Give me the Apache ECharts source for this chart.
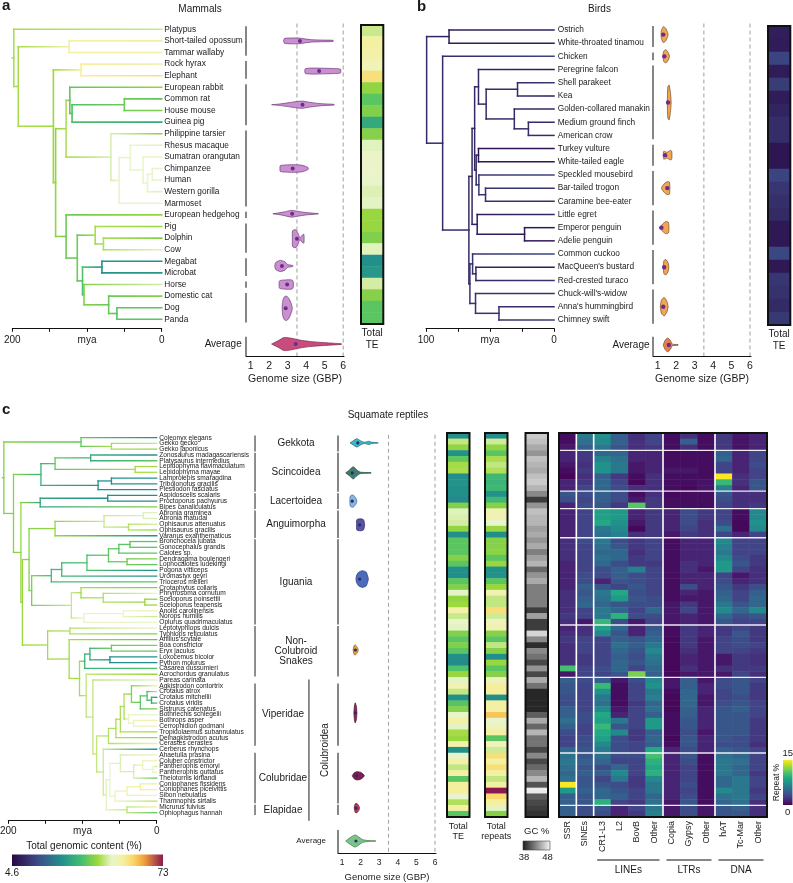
<!DOCTYPE html>
<html>
<head>
<meta charset="utf-8">
<script src="https://cdn.jsdelivr.net/npm/echarts@6.0.0/dist/echarts.min.js"></script>
<style>
html,body{margin:0;padding:0;background:#ffffff;}
#chart{width:793px;height:883px;}
</style>
</head>
<body>
<div id="chart"></div>
<script>
// ======================= DATA =======================
const genomeTicks = [1, 2, 3, 4, 5, 6];
const treeTickLabelsA = {200: '200', 100: 'mya', 0: '0'};
const treeTickLabelsB = {100: '100', 50: 'mya', 0: '0'};

// ---- Mammals ----
const mammalSpecies = ['Platypus','Short-tailed opossum','Tammar wallaby','Rock hyrax','Elephant','European rabbit','Common rat','House mouse','Guinea pig','Philippine tarsier','Rhesus macaque','Sumatran orangutan','Chimpanzee','Human','Western gorilla','Marmoset','European hedgehog','Pig','Dolphin','Cow','Megabat','Microbat','Horse','Domestic cat','Dog','Panda'];
const mammalTE = [47,54.5,54,52.5,58,42.5,38,41,32,41.5,49,50.5,50.5,50,48.7,49.5,43,43,41,49,27,28.5,48,41.5,38,38];
const mammalTree = [198,'Platypus',[192,[124,'Short-tailed opossum','Tammar wallaby'],[145,[108,'Rock hyrax','Elephant'],[142,[128,[123,'European rabbit',[120,[50,'Common rat','House mouse'],'Guinea pig']],[68,'Philippine tarsier',[57,[42,'Rhesus macaque',[25,'Sumatran orangutan',[19,[12.5,'Chimpanzee','Human'],'Western gorilla']]],'Marmoset']]],[128,'European hedgehog',[113,[89,'Pig',[78,'Dolphin','Cow']],[106,[80,'Megabat','Microbat'],[104,'Horse',[71,'Domestic cat',[60,'Dog','Panda']]]]]]]]]];
const mammalGroups = [[0,2],[3,4],[5,8],[9,15],[16,16],[17,19],[20,21],[22,22],[23,25]];
const mammalViolinRows = [1.0,3.6,6.5,12,15.9,18.05,20.4,22.0,24.05,27.13];
const mammalViolinMedians = [3.66,4.7,3.8,3.27,3.24,3.5,2.69,2.97,2.89,3.43];
const mammalViolinProfiles = [
  [[2.78,0],[2.82,0.2],[3.0,0.24],[3.6,0.25],[3.9,0.18],[4.3,0.1],[4.9,0.07],[5.45,0.05],[5.47,0]],
  [[3.92,0],[3.95,0.2],[4.3,0.26],[5.0,0.24],[5.6,0.21],[5.85,0.17],[5.87,0]],
  [[2.13,0],[2.5,0.05],[3.0,0.16],[3.5,0.28],[3.8,0.31],[4.2,0.2],[4.8,0.09],[5.5,0.03],[5.52,0]],
  [[2.58,0],[2.6,0.25],[2.9,0.31],[3.3,0.33],[3.7,0.3],[3.95,0.2],[4.1,0.08],[4.12,0]],
  [[2.2,0],[2.7,0.12],[3.2,0.29],[3.5,0.22],[4.0,0.1],[4.64,0.02],[4.66,0]],
  [[3.25,0],[3.27,0.7],[3.45,0.76],[3.56,0.45],[3.66,0.08],[3.78,0.3],[3.87,0.38],[3.89,0]],
  [[2.3,0],[2.35,0.3],[2.6,0.48],[2.85,0.36],[3.0,0.12],[3.27,0.05],[3.29,0]],
  [[2.53,0],[2.56,0.32],[2.9,0.4],[3.2,0.4],[3.29,0.3],[3.31,0]],
  [[2.7,0],[2.72,0.5],[2.8,0.95],[2.95,1.05],[3.1,0.75],[3.22,0.25],[3.25,0]],
  [[2.13,0],[2.5,0.3],[2.8,0.56],[3.2,0.5],[3.6,0.36],[4.2,0.22],[5.0,0.12],[5.9,0.03],[5.92,0]]
];

// ---- Birds ----
const birdSpecies = ['Ostrich','White-throated tinamou','Chicken','Peregrine falcon','Shell parakeet','Kea','Golden-collared manakin','Medium ground finch','American crow','Turkey vulture','White-tailed eagle','Speckled mousebird','Bar-tailed trogon','Caramine bee-eater','Little egret','Emperor penguin','Adelie penguin','Common cuckoo',"MacQueen's bustard",'Red-crested turaco',"Chuck-will's-widow","Anna's hummingbird",'Chimney swift'];
const birdTE = [8.5,8,15,8,13.5,8,9.5,11,11,7,7,15,12.5,11.5,10.5,7.5,7.5,15.5,7.5,12.5,12,10.5,13];
const birdTree = [99.5,[82,'Ostrich','White-throated tinamou'],[87,'Chicken',[66.5,[64,[62,[59,'Peregrine falcon',[53,[28.5,'Shell parakeet','Kea'],[31,'Golden-collared manakin',[20,'Medium ground finch','American crow']]]],[60.8,[59,'Turkey vulture','White-tailed eagle'],[58.7,'Speckled mousebird',[53.5,'Bar-tailed trogon','Caramine bee-eater']]]],[60,'Little egret',[23,'Emperor penguin','Adelie penguin']]],[65.7,[63.6,'Common cuckoo',[61,"MacQueen's bustard",'Red-crested turaco']],[61.3,"Chuck-will's-widow",[43,"Anna's hummingbird",'Chimney swift']]]]]];
const birdGroups = [[0,1],[2,2],[3,8],[9,10],[11,13],[14,16],[17,19],[20,22]];
const birdViolinRows = [0.35,2,5.5,9.5,12,15,18,21,23.9];
const birdViolinMedians = [1.3,1.36,1.56,1.4,1.52,1.2,1.35,1.3,1.6];
const birdViolinProfiles = [
  [[1.18,0],[1.2,0.3],[1.3,0.6],[1.42,0.5],[1.54,0.15],[1.56,0]],
  [[1.28,0],[1.33,0.4],[1.45,0.5],[1.6,0.2],[1.64,0]],
  [[1.52,0],[1.55,1.2],[1.62,1.32],[1.7,0.6],[1.73,0]],
  [[1.3,0],[1.33,0.3],[1.5,0.22],[1.68,0.36],[1.76,0.3],[1.77,0]],
  [[1.2,0],[1.25,0.15],[1.45,0.45],[1.63,0.47],[1.66,0]],
  [[1.08,0],[1.15,0.08],[1.28,0.3],[1.45,0.46],[1.58,0.4],[1.61,0]],
  [[1.3,0],[1.34,0.5],[1.45,0.58],[1.57,0.3],[1.6,0]],
  [[1.14,0],[1.2,0.5],[1.35,0.7],[1.5,0.4],[1.55,0.1],[1.57,0]],
  [[1.3,0],[1.4,0.35],[1.55,0.52],[1.7,0.3],[1.8,0.06],[2.1,0.03],[2.12,0]]
];

// ---- Squamate reptiles ----
const squamateSpecies = ['Coleonyx elegans','Gekko gecko','Gekko japonicus','Zonosaurus madagascariensis','Platysaurus intermedius','Lepidophyma flavimaculatum','Lepidophyma mayae','Lamprolepis smaragdina','Tribolonotus gracilis','Plestiodon fasciatus','Aspidoscelis scalaris','Proctoporus pachyurus','Bipes canaliculatus','Abronia graminea','Abronia matudai','Ophisaurus attenuatus','Ophisaurus gracilis','Varanus exanthematicus','Bronchocela jubata','Gonocephalus grandis','Calotes sp.','Dendragama boulengeri','Lophocalotes ludekingi','Pogona vitticeps','Uromastyx geyri','Trioceros melleri','Crotaphytus collaris','Phrynosoma cornutum','Sceloporus poinsettii','Sceloporus teapensis','Anolis carolinensis','Norops humilis','Oplurus quadrimaculatus','Leptotyphlops dulcis','Typhlops reticulatus','Anilius scytale','Boa constrictor','Eryx jaculus','Loxocemus bicolor','Python molurus','Casarea dussumieri','Acrochordus granulatus','Pareas carinata','Agkistrodon contortrix','Crotalus atrox','Crotalus mitchellii','Crotalus viridis','Sistrurus catenatus','Bothriechis schlegelii','Bothrops asper','Cerrophidion godmani','Tropidolaemus subannulatus','Deinagkistrodon acutus','Cerastes cerastes','Cerberus rhynchops','Ahaetulla prasina','Coluber constrictor','Pantherophis emoryi','Pantherophis guttatus','Thelotornis kirtlandi','Coniophanes fissidens','Coniophanes piceivittis','Sibon nebulatus','Thamnophis sirtalis','Micrurus fulvius','Ophiophagus hannah'];
const squamateTE = [27,46.5,42.5,27.5,38.5,44,44.5,27,28,27,27,26,41,49,48.5,48,42.5,27,38,38,38,41.5,38,27,27,38,41,49.5,42.5,43.5,54,47,50,49.5,41,38,41,38,27,26.5,37,43,49.5,53,46.5,27,37.5,41.5,50,54,49.5,44,43,54,27,50,54,46.5,54.5,38,55,55,50,45,54.5,38];
const squamateRepeats = [27,47.5,42.5,38,44.5,46.5,45,35,34,35,27.5,35,41.5,53,53,50,43,27,41.5,41.5,42,38,43,27,27.5,38,43,53,46.5,46.5,58,47.5,52,53,41.5,38,46.5,41.5,27,43,38,41.5,52,55,55,27,54.5,54.5,61,50,52,54.5,38,52,47.5,58,54.5,58,54.5,46.5,54.5,73,59,55,49.5,41.5];
const squamateGC = [46,45.5,44.5,43.5,45.5,45,44.5,45.5,46,45,43,39.5,43.5,45.5,45,45,44,44.5,43.5,44.5,42.5,44,45,41.5,43.5,44.5,42.5,42.5,42.5,42.5,39.5,44,39.5,39.5,46.5,43,38.8,43,42,40,43.5,40,44.5,42,38.5,38.5,38.5,38.5,41,44.5,41.5,45,42,42,40,43,40,41.5,43,45,40.5,47.5,41,40,39.5,39];
const repeatClasses = ['SSR','SINEs','CR1-L3','L2','BovB','Other','Copia','Gypsy','Other','hAT','Tc-Mar','Other'];
const repeatGroups = [['LINEs',2,5],['LTRs',6,8],['DNA',9,11]];
const repeatPct = [
[0.5,6,7.5,4.5,2,3,0.5,2,0.5,2.5,1,1.5],
[0.5,5.5,7,4.5,2,3,0.5,4.5,0.5,2.5,0.8,1.5],
[1,4.5,6,4,2,2.5,0.5,2,0.5,2.5,0.8,1.5],
[1.5,2.5,5,5,1.5,1.5,0.5,0.5,0.5,4.5,1.5,3],
[1.5,2.5,6.5,5.5,1.5,1.5,0.5,0.5,0.5,5,1.5,3],
[1,2,7.5,6,1,1.5,0.5,0.5,0.5,3,1.5,3.5],
[0.5,2.5,7.5,6,1,1.5,1,1,0.5,3,1.5,3],
[0.2,2,4.5,2.5,0.5,2,0.5,0.5,0.5,15,2,3],
[1.5,2.5,5,3,0.3,2,0.5,0.5,0.8,10,2,4],
[1.5,3,5,3.5,2,2,0.5,0.3,0.8,6.5,1.5,4],
[4,3.5,4.5,3.5,0.5,2,0.3,0.5,0.5,4,2,2],
[3.5,3,4.5,3.5,1,2.5,0.5,0.5,0.5,3.5,2,2],
[1.5,3.5,4,2.5,11,2.5,0.5,0.5,0.5,3,2,2.5],
[1.5,3,8.5,8,1.5,2.5,1.5,3.5,2.5,3,0.5,7],
[1.5,3,8.5,8,1.5,2.5,1.5,3.5,2.5,3,0.5,7],
[1.5,3,9,7.5,1,2.5,1.5,3.5,2,3.5,0.3,7.5],
[1.5,3,6,7,0.3,2.5,1.5,3,2,5.5,0.3,7],
[1.5,3,5.5,6.5,2,2.5,1,2.5,2,3,1.5,3],
[2,3.5,6,3.5,2.5,3,0.5,1.5,1.5,7,3,3],
[2,3,5.5,4,2.5,3,0.5,1.5,1.5,6.5,3,3],
[2,3,5,5,2,3,0.5,1.5,1.5,6,3,3],
[2,3,5.5,5,2.5,3,0.5,1.5,1.5,7,3.5,2.5],
[1.5,3,5,3.5,2.5,2.5,0.5,2,1.5,8,4,2.5],
[1.5,3,3.5,4.5,6.5,3,0.5,2,1,8,3,2],
[1.5,3.5,3.5,4.5,3.5,3,0.5,1.5,1.5,3,1,2],
[1.5,3.5,1.5,4,3.5,3,0.5,1.5,1.5,3.5,1.5,2],
[1.5,4.5,4,3,4,3,0.5,3.5,1.5,4,2.5,3.5],
[2,4,6,9,3.5,3,0.5,1.5,1,4.5,3,4.5],
[2,4.5,5.5,8,4,3.5,0.5,1,1,5,3,5],
[2,5,5,4,3.5,3.5,1,2.5,1,6,4,5],
[2,3,6,5,3,5,1,3,1,7,5,7],
[2.5,3,6,9.5,3.5,3.5,1,1.5,1,5,3.5,4],
[2,1,10,3.5,1,3,1,1.5,1,4,3,3],
[1.5,2,8.5,5,1.5,4,0.5,2.5,1.5,2.5,3,2.5],
[2,2,7,4,1.5,4.5,0.5,2.5,1.5,2.5,4,2.5],
[2.5,3,3,4.5,4,5,0.3,2.5,1,3,3.5,2.5],
[2,3,3,5.5,4.5,6,0.3,2.5,1,3,3.5,3],
[2,3,3,5,4,7,0.3,2,1,3,3,2.5],
[2,2.5,3,4.5,3.5,6,0.3,1.5,1,1,2.5,2],
[2,2.5,3,5,4,5.5,0.3,1.5,1,1,2.5,2],
[10.5,3,3.5,5,3,5,0.3,2,1,2,2.5,2.5],
[1,3,3,4,12,4.5,0.3,1,1,1,3,2],
[4.5,3.5,4.5,1,3.5,7,1,4.5,1,3.5,4,3],
[4,3,10,0.5,3,7.5,1,4.5,1.5,3.5,4,2.5],
[4,3,7.5,0.5,3,6,0.5,5,1.5,3,4,2.5],
[3.5,3,6,0.5,3,6.5,0.3,5,1,3,3.5,2.5],
[3.5,3,5.5,0.5,2.5,5,0.3,5,1,3.5,4,3],
[4.5,3,7,1,3,5.5,0.3,4.5,1.5,4,4.5,3],
[4.5,3.5,9,1.5,3,4.5,0.5,4.5,1.5,4,4,3],
[5.5,3.5,8.5,6,3,8,0.5,4,1.5,4,4,2.5],
[4.5,3,10,4,3,8,0.5,4,1.5,4,4,2.5],
[3.5,3,9,7,2.5,4.5,0.5,3.5,1,4,4,2.5],
[3,3.5,8.5,3.5,2.5,5,0.3,4,1.5,4,3.5,2.5],
[3,3.5,7,3.5,3,4.5,0.5,4,1.5,3.5,3.5,2],
[5,4,6,3.5,3,9,1.5,3.5,1.5,4.5,4,3],
[5.5,4,5.5,3.5,3.5,10.5,1.5,4,0.5,5.5,5,3],
[6,4.5,5,3,3,9.5,1.5,3.5,0.5,6,5.5,3],
[5.5,4,3.5,5,3,9,1.5,3,0.5,6,5,3],
[5,4.5,4.5,7,3,9.5,1.5,3,0.5,6,5,2.5],
[5.5,4,3,6,2.5,7,1.5,3,0.5,5,6,3],
[15,4,4,3.5,2.5,6,1.5,3.5,0.5,5,6,3],
[8,4.5,5,4,3,6,1.5,3,0.5,7,6,2.5],
[4.5,4,5,4.5,3,5,1.5,3.5,0.5,5.5,6,3],
[4.5,4,9.5,3,2.5,5.5,1,4,0.5,5,5.5,2],
[4.5,3.5,4,1.5,3,6,1,3.5,1,4,4.5,2],
[4.5,3.5,3.5,1.5,2.5,6.5,1,3.5,1,4,4,2]
];
const heatSepCols = [0,1,5,8];
const heatSepRows = [2,9,12,17,32,41,54,63];
const squamateTree = [206,
  [102,'Coleonyx elegans',[61,'Gekko gecko','Gekko japonicus']],
  [193,
    [156,[137,[89,'Zonosaurus madagascariensis','Platysaurus intermedius'],[29,'Lepidophyma flavimaculatum','Lepidophyma mayae']],[79,[61,'Lamprolepis smaragdina','Tribolonotus gracilis'],'Plestiodon fasciatus']],
    [183,
      [157,[66,'Aspidoscelis scalaris','Proctoporus pachyurus'],'Bipes canaliculatus'],
      [181,
        [172,
          [137,[71,[18,'Abronia graminea','Abronia matudai'],[38,'Ophisaurus attenuatus','Ophisaurus gracilis']],'Varanus exanthematicus'],
          [168.5,
            [142,[128,[94,[65,[51,[36,'Bronchocela jubata','Gonocephalus grandis'],'Calotes sp.'],[40,'Dendragama boulengeri','Lophocalotes ludekingi']],'Pogona vitticeps'],'Uromastyx geyri'],'Trioceros melleri'],
            [115,[102,'Crotaphytus collaris',[72,'Phrynosoma cornutum',[16,'Sceloporus poinsettii','Sceloporus teapensis']]],[98,[45,'Anolis carolinensis','Norops humilis'],'Oplurus quadrimaculatus']]
          ]
        ],
        [147,
          [117,'Leptotyphlops dulcis','Typhlops reticulatus'],
          [118,'Anilius scytale',
            [104,
              [97,[90,[61,'Boa constrictor','Eryx jaculus'],[63,'Loxocemus bicolor','Python molurus']],'Casarea dussumieri'],
              [95,'Acrochordus granulatus',
                [86,'Pareas carinata',
                  [81,
                    [65,[55,[49,[44,[34,'Agkistrodon contortrix',[22,[13,'Crotalus atrox',[7,'Crotalus mitchellii','Crotalus viridis']],'Sistrurus catenatus']],[38,'Bothriechis schlegelii',[31,'Bothrops asper','Cerrophidion godmani']]],'Tropidolaemus subannulatus'],'Deinagkistrodon acutus'],'Cerastes cerastes'],
                    [72,'Cerberus rhynchops',[68,[63,[49,'Ahaetulla prasina',[31,[19,'Coluber constrictor',[5,'Pantherophis emoryi','Pantherophis guttatus']],'Thelotornis kirtlandi']],[56,[40,[22,'Coniophanes fissidens','Coniophanes piceivittis'],'Sibon nebulatus'],'Thamnophis sirtalis']],[40,'Micrurus fulvius','Ophiophagus hannah']]]
                  ]
                ]
              ]
            ]
          ]
        ]
      ]
    ]
  ]
];
const cladeNames = ['Gekkota','Scincoidea','Lacertoidea','Anguimorpha','Iguania','Non-\nColubroid\nSnakes','Viperidae','Colubridae','Elapidae'];
const cladeRows = [[0,2],[3,9],[10,12],[13,17],[18,32],[33,41],[43,53],[55,63],[64,65]];
const cladeInColubroidea = [false,false,false,false,false,false,true,true,true];
const colubroideaSpan = [41.9,66.4];
const squamateViolinRows = [0.9,6.1,11,15.1,24.5,36.8,47.7,58.6,64.2,69.9];
const squamateViolinMedians = [1.85,1.55,1.55,1.95,1.95,1.72,1.72,1.78,1.75,1.75];
const squamateViolinProfiles = [
  [[1.43,0],[1.6,0.35],[1.8,0.72],[2.0,0.35],[2.2,0.1],[2.45,0.28],[2.6,0.1],[2.9,0.06],[2.95,0]],
  [[1.2,0],[1.4,0.5],[1.6,1.05],[1.8,0.5],[2.0,0.12],[2.55,0.06],[2.57,0]],
  [[1.42,0],[1.45,0.9],[1.6,1.05],[1.75,0.5],[1.8,0]],
  [[1.78,0],[1.8,0.9],[2.0,1.05],[2.15,0.9],[2.2,0.45],[2.22,0]],
  [[1.75,0],[1.78,0.6],[1.9,1.2],[2.1,1.45],[2.3,1.2],[2.4,0.3],[2.42,0]],
  [[1.6,0],[1.63,0.6],[1.7,0.9],[1.85,0.3],[1.87,0]],
  [[1.64,0],[1.66,1.0],[1.71,1.75],[1.78,1.0],[1.8,0]],
  [[1.55,0],[1.65,0.5],[1.8,0.72],[2.0,0.6],[2.15,0.25],[2.2,0]],
  [[1.66,0],[1.7,0.7],[1.8,0.82],[1.92,0.3],[1.94,0]],
  [[1.2,0],[1.4,0.5],[1.7,1.05],[1.9,0.7],[2.1,0.25],[2.4,0.08],[2.8,0.04],[2.82,0]]
];

// ======================= STYLE / LAYOUT =======================
const FONT = '"Liberation Sans", Arial, Helvetica, sans-serif';
const TEXT = '#1a1a1a';
const TE_MIN = 4.6, TE_MAX = 73;
const teStops = [[0,'#2b0845'],[0.18,'#3d4f8a'],[0.33,'#21908c'],[0.46,'#44be70'],[0.57,'#9fd93a'],[0.66,'#e9f5cf'],[0.74,'#f6ef9c'],[0.8,'#f8d86a'],[0.87,'#f5a43a'],[1,'#8a1a4e']];
const viridis = ['#440154','#482475','#414487','#355f8d','#2a788e','#21918c','#22a884','#44bf70','#7ad151','#bddf26','#fde725'];

const L = {
  aTree:   {left:12.3, top:23.5, width:149.4, height:301.6},
  aViolin: {left:246, top:23.5, width:98, height:332.5},
  aTE:     {left:361, top:25, width:22.3, height:299},
  bTree:   {left:426, top:23.4, width:128, height:303.1},
  bViolin: {left:653, top:23.4, width:98, height:332.6},
  bTE:     {left:768, top:26, width:22.3, height:299},
  cTree:   {left:8.3, top:434.8, width:148.4, height:380.8},
  cClade:  {left:250, top:434.8, width:88, height:380.8},
  cViolin: {left:338, top:434.8, width:98, height:418.2},
  cTE:     {left:447, top:433, width:22.5, height:384},
  cRep:    {left:485, top:433, width:22.5, height:384},
  cGC:     {left:525.5, top:433, width:22.5, height:384},
  cHeat:   {left:559, top:433, width:208, height:384}
};
const VA = {min:0.746, max:6.043, yMax:28.16, avgStart:26.5, avgGap:4.3};
const VB = {min:0.745, max:6.054, yMax:24.74, avgStart:23.27, avgGap:3.5};
const VC = {min:0.785, max:6.054, yMax:71.98, avgStart:68.0, avgGap:12};

function hexToRgb(h){ const n = parseInt(h.slice(1),16); return [(n>>16)&255,(n>>8)&255,n&255]; }
function colorAt(stops, t){
  t = Math.max(0, Math.min(1, t));
  for (let i = 1; i < stops.length; i++) {
    if (t <= stops[i][0]) {
      const a = stops[i-1], b = stops[i];
      const f = (t - a[0]) / ((b[0] - a[0]) || 1);
      const ca = hexToRgb(a[1]), cb = hexToRgb(b[1]);
      return 'rgb(' + ca.map((c,k)=>Math.round(c + (cb[k]-c)*f)).join(',') + ')';
    }
  }
  return stops[stops.length-1][1];
}
function teColor(v){ return colorAt(teStops, (v - TE_MIN)/(TE_MAX - TE_MIN)); }
const tePalette = Array.from({length:61}, (_,i)=>colorAt(teStops, i/60));

// ---------- tree layout from nested data (node colour = mean of descendant tips) ----------
function buildTree(tree, species, values, stub){
  const segs = [];
  function walk(node){
    if (typeof node === 'string') {
      const i = species.indexOf(node);
      if (i < 0) { console.error('missing', node); return {age:0, y:0, v:values[0], s:values[0], n:1}; }
      return {age:0, y:i, v:values[i], s:values[i], n:1};
    }
    const age = node[0];
    const kids = node.slice(1).map(walk);
    const ys = kids.map(k=>k.y);
    const y0 = Math.min.apply(null, ys), y1 = Math.max.apply(null, ys);
    const s = kids.reduce((a,k)=>a+k.s, 0), n = kids.reduce((a,k)=>a+k.n, 0);
    const v = s / n;
    segs.push([age, y0, age, y1, v, v]);
    kids.forEach(k => segs.push([age, k.y, k.age, k.y, v, k.v]));
    return {age, y:(y0+y1)/2, v, s, n};
  }
  const r = walk(tree);
  if (stub) segs.push([r.age + stub, r.y, r.age, r.y, r.v, r.v]);
  return segs;
}
const mammalSegs = buildTree(mammalTree, mammalSpecies, mammalTE, 2);
const birdSegs = buildTree(birdTree, birdSpecies, birdTE, 0);
const squamateSegs = buildTree(squamateTree, squamateSpecies, squamateTE, 2);

const axisText = (size)=>({fontSize:size, color:TEXT, fontFamily:FONT});

// ---------- axes ----------
function treeXAxis(gi, max, offset, margin, labels){
  return {gridIndex:gi, type:'value', min:0, max:max, interval:max/4, inverse:true, offset:offset,
    axisLine:{show:true, onZero:false, lineStyle:{color:'#111', width:1}},
    axisTick:{show:true, length:3.5, lineStyle:{color:'#111', width:1}},
    axisLabel:Object.assign({margin:margin, showMinLabel:true, showMaxLabel:true,
      formatter:(v)=> (labels[v] !== undefined ? labels[v] : '')}, axisText(10)),
    splitLine:{show:false}};
}
function violinXAxis(gi, V, tickSize, nameSize, nameGap, margin){
  return {gridIndex:gi, type:'value', min:V.min, max:V.max,
    axisLine:{show:true, onZero:false, lineStyle:{color:'#111', width:1}},
    axisTick:{show:false},
    axisLabel:Object.assign({margin:margin, customValues:genomeTicks,
      formatter:(v)=> (Math.abs(v - Math.round(v)) < 1e-6 ? String(Math.round(v)) : '')}, axisText(tickSize)),
    splitLine:{show:false},
    name:'Genome size (GBP)', nameLocation:'middle', nameGap:nameGap, nameTextStyle:axisText(nameSize)};
}
function catXAxis(gi, data, size, lh, margin, rotate){
  return {gridIndex:gi, type:'category', data:data,
    axisLine:{show:false}, axisTick:{show:false}, splitLine:{show:false},
    axisLabel:Object.assign({margin:margin, interval:0, lineHeight:lh, rotate:rotate||0}, axisText(size))};
}
function hiddenX(gi, min, max){ return {gridIndex:gi, type:'value', min:min, max:max, show:false}; }
function valueY(gi, min, max){ return {gridIndex:gi, type:'value', min:min, max:max, inverse:true, show:false}; }
function labelY(gi, data, size, margin){
  return {gridIndex:gi, type:'category', data:data, inverse:true, position:'right',
    axisLine:{show:false}, axisTick:{show:false}, splitLine:{show:false},
    axisLabel:Object.assign({interval:0, margin:margin}, axisText(size))};
}
function catY(gi, data){ return {gridIndex:gi, type:'category', data:data, inverse:true, show:false}; }

// ---------- series helpers ----------
function heatSeries(xi, yi, data){
  return {type:'heatmap', xAxisIndex:xi, yAxisIndex:yi, data:data, silent:true,
    emphasis:{disabled:true}, itemStyle:{borderWidth:0}, progressive:0};
}
function treeSeries(xi, yi, segs, lw){
  return {type:'custom', xAxisIndex:xi, yAxisIndex:yi, silent:true, z:3, data:segs,
    encode:{x:[0,2], y:[1,3]},
    renderItem:(params, api)=>{
      const p1 = api.coord([api.value(0), api.value(1)]);
      const p2 = api.coord([api.value(2), api.value(3)]);
      const c1 = teColor(api.value(4)), c2 = teColor(api.value(5));
      const stroke = (c1 === c2) ? c1 : {type:'linear', x:p1[0], y:p1[1], x2:p2[0], y2:p2[1], global:true,
        colorStops:[{offset:0, color:c1},{offset:1, color:c2}]};
      return {type:'line', shape:{x1:p1[0], y1:p1[1], x2:p2[0], y2:p2[1]},
        style:{stroke:stroke, lineWidth:lw, lineCap:'square'}};
    }};
}
function violinSeries(xi, yi, rows, medians, profiles, fills, strokes, dot, r){
  return {type:'custom', xAxisIndex:xi, yAxisIndex:yi, silent:true, z:5,
    data: rows.map((row,i)=>[medians[i], row]), encode:{x:0, y:1},
    renderItem:(params, api)=>{
      const i = params.dataIndex, row = api.value(1), prof = profiles[i];
      const top = prof.map(p=>api.coord([p[0], row - p[1]]));
      const bot = prof.slice().reverse().map(p=>api.coord([p[0], row + p[1]]));
      const m = api.coord([api.value(0), row]);
      return {type:'group', children:[
        {type:'polygon', shape:{points:top.concat(bot), smooth:0.25},
          style:{fill:fills[i], stroke:strokes[i], lineWidth:0.7}},
        {type:'circle', shape:{cx:m[0], cy:m[1], r:r}, style:{fill:dot}}
      ]};
    }};
}
function guideItems(V, groups, pad, avgRow){
  const items = groups.map(g=>[V.min, g[0]-pad, g[1]+pad, 0]);
  items.push([V.min, V.avgStart, V.yMax, 0]);
  items.push([3.5, -0.5, V.yMax, 1]);
  items.push([6, -0.5, V.yMax, 1]);
  items.push([V.min, avgRow, avgRow, 2]);
  return items;
}
function guideSeries(xi, yi, items, fontSize, gap){
  return {type:'custom', xAxisIndex:xi, yAxisIndex:yi, silent:true, z:4, data:items,
    encode:{x:0, y:[1,2]},
    renderItem:(params, api)=>{
      const kind = api.value(3);
      const p1 = api.coord([api.value(0), api.value(1)]);
      const p2 = api.coord([api.value(0), api.value(2)]);
      if (kind === 2) {
        return {type:'text', x:p1[0]-gap, y:p1[1],
          style:{text:'Average', fontSize:fontSize, fontFamily:FONT, fill:TEXT, align:'right', verticalAlign:'middle'}};
      }
      return {type:'line', shape:{x1:p1[0], y1:p1[1], x2:p2[0], y2:p2[1]},
        style: kind === 1 ? {stroke:'#a8a8a8', lineWidth:1.1, lineDash:[4,3]} : {stroke:'#222', lineWidth:1.1}};
    }};
}

// clade annotation items (x in 0..1 of the clade band)
const cladeItems = [];
cladeRows.forEach((g,i)=>{
  cladeItems.push([0.057, g[0]-0.38, g[1]+0.38, 0, i]);
  cladeItems.push([cladeInColubroidea[i] ? 0.375 : 0.523, (g[0]+g[1])/2, 0, 1, i]);
});
cladeItems.push([0.67, colubroideaSpan[0], colubroideaSpan[1], 0, -1]);
cladeItems.push([0.85, (colubroideaSpan[0]+colubroideaSpan[1])/2, 0, 2, -1]);

const heatSepItems = heatSepCols.map(c=>[0, c]).concat(heatSepRows.map(r=>[1, r]));

// ---------- graphics ----------
const graphics = [];
function gText(x, y, text, size, extra){
  graphics.push(Object.assign({type:'text', x:x, y:y, z:100, silent:true,
    style:Object.assign({text:text, fill:TEXT, fontSize:size, fontFamily:FONT, align:'center', verticalAlign:'middle'}, (extra && extra.style) || {})},
    (extra && extra.el) || {}));
}
gText(2, 6, 'a', 15, {style:{fontWeight:'bold', align:'left'}});
gText(417, 6.5, 'b', 15, {style:{fontWeight:'bold', align:'left'}});
gText(2, 409.5, 'c', 15, {style:{fontWeight:'bold', align:'left'}});
gText(200, 9, 'Mammals', 10);
gText(599.5, 9, 'Birds', 10);
gText(388, 415.5, 'Squamate reptiles', 10);
[L.aTE, L.bTE, L.cTE, L.cRep, L.cGC, L.cHeat].forEach(b=>{
  graphics.push({type:'rect', z:100, silent:true, shape:{x:b.left, y:b.top, width:b.width, height:b.height},
    style:{fill:'transparent', stroke:'#111', lineWidth:2}});
});
// total genomic content colour bar
graphics.push({type:'rect', z:100, silent:true, shape:{x:12, y:854.5, width:151, height:11.5},
  style:{fill:new echarts.graphic.LinearGradient(0,0,1,0, tePalette.map((c,i)=>({offset:i/(tePalette.length-1), color:c})))}});
gText(84, 846, 'Total genomic content (%)', 10);
gText(12, 873, String(TE_MIN), 10);
gText(163, 873, String(TE_MAX), 10);
// GC colour bar
graphics.push({type:'rect', z:100, silent:true, shape:{x:523, y:841, width:27, height:9},
  style:{fill:new echarts.graphic.LinearGradient(0,0,1,0,[{offset:0,color:'#1c1c1c'},{offset:1,color:'#f6f6f6'}]), stroke:'#444', lineWidth:0.6}});
gText(536.7, 831.5, 'GC %', 9.5);
gText(524, 857.5, '38', 9.5);
gText(547.5, 857.5, '48', 9.5);
// repeat colour bar
graphics.push({type:'rect', z:100, silent:true, shape:{x:783, y:760, width:9.5, height:45},
  style:{fill:new echarts.graphic.LinearGradient(0,0,0,1, viridis.map((c,i)=>({offset:i/(viridis.length-1), color:viridis[viridis.length-1-i]})))}});
gText(787.7, 753, '15', 9.5);
gText(787.7, 812, '0', 9.5);
gText(776.5, 782.5, 'Repeat %', 8.5, {el:{rotation:Math.PI/2}});
// repeat family brackets
(function(){
  const b = L.cHeat, cw = b.width / repeatClasses.length;
  repeatGroups.forEach(g=>{
    const x0 = b.left + g[1]*cw + 3.5, x1 = b.left + (g[2]+1)*cw - 3.5;
    graphics.push({type:'line', z:100, silent:true, shape:{x1:x0, y1:860, x2:x1, y2:860}, style:{stroke:'#111', lineWidth:1.2}});
    gText((x0+x1)/2, 870.5, g[0], 10);
  });
})();

// ======================= OPTION =======================
const gridList = [L.aTree, L.aViolin, L.aTE, L.bTree, L.bViolin, L.bTE, L.cTree, L.cClade, L.cViolin, L.cTE, L.cRep, L.cGC, L.cHeat];

const option = {
  animation:false,
  backgroundColor:'#ffffff',
  textStyle:{fontFamily:FONT, color:TEXT},
  grid: gridList.map(g=>({left:g.left, top:g.top, width:g.width, height:g.height, containLabel:false, outerBoundsMode:'none', show:false})),
  xAxis: [
    treeXAxis(0, 200, 3.2, 7, treeTickLabelsA),             // 0
    violinXAxis(1, VA, 10.5, 10.5, 18, 4.5),                // 1
    catXAxis(2, ['Total\nTE'], 10, 11.7, 3.5),              // 2
    treeXAxis(3, 100, 1.8, 6.5, treeTickLabelsB),           // 3
    violinXAxis(4, VB, 10.5, 10.5, 18, 4.5),                // 4
    catXAxis(5, ['Total\nTE'], 10, 11.7, 3.5),              // 5
    treeXAxis(6, 200, 4.7, 6.4, treeTickLabelsA),           // 6
    hiddenX(7, 0, 1),                                       // 7
    violinXAxis(8, VC, 8.5, 9.5, 19, 5),                    // 8
    catXAxis(9, ['Total\nTE'], 9, 10, 5),                   // 9
    catXAxis(10, ['Total\nrepeats'], 9, 10, 5),             // 10
    catXAxis(11, [''], 9, 10, 5),                           // 11
    catXAxis(12, repeatClasses, 9, 10, 4, 90)               // 12
  ],
  yAxis: [
    valueY(0, -0.5, mammalSpecies.length-0.5),              // 0
    labelY(0, mammalSpecies, 8.3, 2.6),                     // 1
    valueY(1, -0.5, VA.yMax),                               // 2
    catY(2, mammalSpecies),                                 // 3
    valueY(3, -0.5, birdSpecies.length-0.5),                // 4
    labelY(3, birdSpecies, 8.3, 3.7),                       // 5
    valueY(4, -0.5, VB.yMax),                               // 6
    catY(5, birdSpecies),                                   // 7
    valueY(6, -0.5, squamateSpecies.length-0.5),            // 8
    labelY(6, squamateSpecies, 6.6, 2.6),                   // 9
    valueY(7, -0.5, squamateSpecies.length-0.5),            // 10
    valueY(8, -0.5, VC.yMax),                               // 11
    catY(9, squamateSpecies),                               // 12
    catY(10, squamateSpecies),                              // 13
    catY(11, squamateSpecies),                              // 14
    catY(12, squamateSpecies)                               // 15
  ],
  visualMap: [
    {type:'continuous', show:false, seriesIndex:[0,1,2,3], min:TE_MIN, max:TE_MAX, inRange:{color:tePalette}},
    {type:'continuous', show:false, seriesIndex:[4], min:38, max:48, inRange:{color:['#1c1c1c','#f6f6f6']}},
    {type:'continuous', show:false, seriesIndex:[5], min:0, max:15, inRange:{color:viridis}}
  ],
  series: [
    heatSeries(2, 3, mammalTE.map((v,i)=>[0,i,v])),                         // 0
    heatSeries(5, 7, birdTE.map((v,i)=>[0,i,v])),                           // 1
    heatSeries(9, 12, squamateTE.map((v,i)=>[0,i,v])),                      // 2
    heatSeries(10, 13, squamateRepeats.map((v,i)=>[0,i,v])),                // 3
    heatSeries(11, 14, squamateGC.map((v,i)=>[0,i,v])),                     // 4
    heatSeries(12, 15, repeatPct.reduce((acc,row,r)=>acc.concat(row.map((v,c)=>[c,r,v])), [])), // 5
    treeSeries(0, 0, mammalSegs, 1.6),
    treeSeries(3, 4, birdSegs, 1.5),
    treeSeries(6, 8, squamateSegs, 1.3),
    guideSeries(1, 2, guideItems(VA, mammalGroups, 0.27, mammalViolinRows[mammalViolinRows.length-1]), 10, VA.avgGap),
    guideSeries(4, 6, guideItems(VB, birdGroups, 0.3, birdViolinRows[birdViolinRows.length-1]), 10, VB.avgGap),
    guideSeries(8, 11, guideItems(VC, cladeRows, 0.38, squamateViolinRows[squamateViolinRows.length-1]), 8, VC.avgGap),
    violinSeries(1, 2, mammalViolinRows, mammalViolinMedians, mammalViolinProfiles,
      mammalViolinRows.map((_,i)=> i === mammalViolinRows.length-1 ? '#c94c7e' : '#c98fce'),
      mammalViolinRows.map((_,i)=> i === mammalViolinRows.length-1 ? '#7d2a4c' : '#6b3a78'), '#6c2c8c', 2),
    violinSeries(4, 6, birdViolinRows, birdViolinMedians, birdViolinProfiles,
      birdViolinRows.map((_,i)=> i === birdViolinRows.length-1 ? '#e8804a' : '#f3a550'),
      birdViolinRows.map(()=> '#6e4a2a'), '#6c2c8c', 2.2),
    violinSeries(8, 11, squamateViolinRows, squamateViolinMedians, squamateViolinProfiles,
      ['#3fb8c6','#3f7d6e','#86b6e4','#5753a6','#4b6bbb','#e3a43c','#8a2b5e','#7b2052','#b43a5e','#7bc38b'],
      ['#1f6a78','#224a40','#3a6a9a','#2e2a6a','#2a3d7a','#8a5a14','#4a1030','#420c2c','#6a1a32','#3a7a4a'], '#2e2a66', 1.6),
    {type:'custom', xAxisIndex:7, yAxisIndex:10, silent:true, z:4, data:cladeItems, encode:{x:0, y:[1,2]},
      renderItem:(params, api)=>{
        const kind = api.value(3), idx = api.value(4);
        const p1 = api.coord([api.value(0), api.value(1)]);
        if (kind === 0) {
          const p2 = api.coord([api.value(0), api.value(2)]);
          return {type:'line', shape:{x1:p1[0], y1:p1[1], x2:p2[0], y2:p2[1]}, style:{stroke:'#333', lineWidth:1.1}};
        }
        if (kind === 1) {
          return {type:'text', x:p1[0], y:p1[1], style:{text:cladeNames[idx], fontSize:10, lineHeight:10, fontFamily:FONT, fill:TEXT, align:'center', verticalAlign:'middle'}};
        }
        return {type:'text', x:p1[0], y:p1[1], rotation:Math.PI/2,
          style:{text:'Colubroidea', fontSize:10, fontFamily:FONT, fill:TEXT, align:'center', verticalAlign:'middle'}};
      }},
    {type:'custom', xAxisIndex:12, yAxisIndex:15, silent:true, z:6, data:heatSepItems,
      renderItem:(params, api)=>{
        const kind = api.value(0), k = api.value(1);
        const s = api.size([1,1]);
        const c0 = api.coord([0,0]);
        const left = c0[0] - s[0]/2, top = c0[1] - s[1]/2;
        const right = left + s[0]*repeatClasses.length, bottom = top + s[1]*squamateSpecies.length;
        if (kind === 0) {
          const x = left + s[0]*(k+1);
          return {type:'line', shape:{x1:x, y1:top, x2:x, y2:bottom}, style:{stroke:'#ffffff', lineWidth:1.6}};
        }
        const y = top + s[1]*(k+1);
        return {type:'line', shape:{x1:left, y1:y, x2:right, y2:y}, style:{stroke:'rgba(255,255,255,0.9)', lineWidth:1.3}};
      }}
  ],
  graphic: {elements: graphics}
};

const chart = echarts.init(document.getElementById('chart'), null, {renderer:'canvas'});
chart.setOption(option);
</script>
</body>
</html>
